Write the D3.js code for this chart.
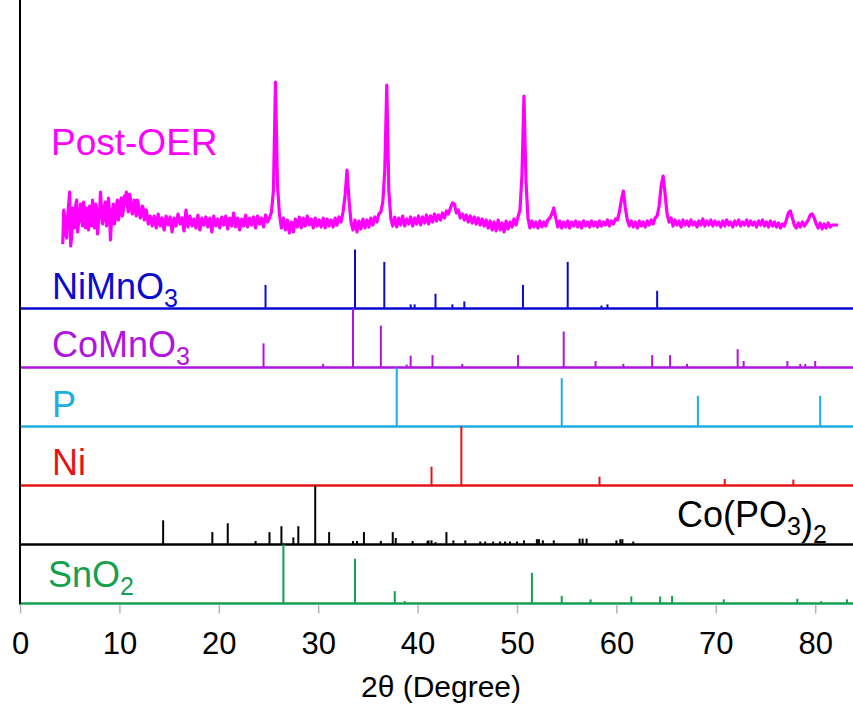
<!DOCTYPE html>
<html>
<head>
<meta charset="utf-8">
<script src="https://cdn.jsdelivr.net/npm/d3@7/dist/d3.min.js"></script>
<style>
  body { margin: 0; background: #fff; }
  svg { display: block; }
  text { font-family: "Liberation Sans", Arial, sans-serif; }
</style>
</head>
<body>
<div id="chart"></div>
<script>
// measured Post-OER pattern: [2theta, counts above background]
const postOER = [
  [4.3,-14],[4.4,20],[4.5,12],[4.6,-4],[4.7,-8],[4.8,14],[4.9,26],[5.0,38],[5.1,-16],[5.2,-6],
  [5.3,22],[5.4,8],[5.5,2],[5.6,24],[5.7,30],[5.8,-2],[5.9,8],[6.0,14],[6.1,26],[6.2,10],
  [6.3,4],[6.4,28],[6.5,20],[6.6,2],[6.7,22],[6.8,12],[6.9,0],[7.0,24],[7.1,18],[7.2,4],
  [7.3,30],[7.4,10],[7.5,2],[7.6,26],[7.7,22],[7.8,-4],[7.9,8],[8.0,16],[8.1,38],[8.2,20],
  [8.3,6],[8.4,12],[8.5,24],[8.6,28],[8.7,4],[8.8,10],[8.9,32],[9.0,18],[9.1,-10],[9.2,8],
  [9.3,20],[9.4,26],[9.5,6],[9.6,12],[9.7,24],[9.8,30],[9.9,10],[10.0,16],[10.1,28],[10.2,32],
  [10.3,14],[10.4,20],[10.5,34],[10.6,26],[10.7,38],[10.8,24],[10.9,18],[11.0,36],[11.1,32],[11.2,22],
  [11.3,16],[11.4,24],[11.5,30],[11.6,20],[11.7,14],[11.8,30],[11.9,26],[12.0,18],[12.1,12],[12.2,16],
  [12.3,24],[12.4,22],[12.5,10],[12.6,12],[12.7,20],[12.8,14],[12.9,6],[13.0,8],[13.1,14],
  [13.3,4],[13.5,14],[13.7,2],[13.9,16],[14.1,4],
  [14.3,12],[14.5,0],[14.7,14],[14.9,5],[15.1,13],[15.3,-2],[15.5,12],[15.7,4],[15.9,16],[16.1,6],
  [16.3,12],[16.5,-1],[16.7,20],[16.9,3],[17.1,14],[17.3,4],[17.5,11],[17.7,2],[17.9,15],[18.1,0],
  [18.3,12],[18.5,5],[18.7,13],[18.9,3],[19.1,12],[19.3,-2],[19.5,14],[19.7,4],[19.9,11],[20.1,2],
  [20.3,13],[20.5,5],[20.7,14],[20.9,1],[21.1,12],[21.3,4],[21.5,17],[21.7,3],[21.9,12],[22.1,0],
  [22.3,11],[22.5,4],[22.7,15],[22.9,3],[23.1,12],[23.3,5],[23.5,13],[23.7,2],[23.9,14],[24.1,6],
  [24.3,12],[24.5,3],[24.7,15],[24.9,8],[25.1,12],[25.3,18],[25.5,40],[25.7,148],[25.9,45],[26.1,16],
  [26.3,2],[26.5,12],[26.7,0],[26.9,10],[27.1,-3],[27.3,8],[27.5,-2],[27.7,11],[27.9,3],[28.1,13],
  [28.3,2],[28.5,12],[28.7,4],[28.9,14],[29.1,5],[29.3,11],[29.5,2],[29.7,12],[29.9,4],[30.1,10],
  [30.3,3],[30.5,12],[30.7,2],[30.9,11],[31.1,4],[31.3,10],[31.5,3],[31.7,12],[31.9,5],[32.1,13],
  [32.3,8],[32.5,18],[32.7,34],[32.9,60],[33.1,30],[33.3,8],[33.5,0],[33.7,10],[33.9,-2],[34.1,9],
  [34.3,1],[34.5,11],[34.7,2],[34.9,10],[35.1,3],[35.3,12],[35.5,5],[35.7,13],[35.9,8],[36.1,16],
  [36.3,18],[36.5,28],[36.7,60],[36.9,145],[37.1,40],[37.3,12],[37.5,4],[37.7,13],[37.9,3],[38.1,12],
  [38.3,5],[38.5,14],[38.7,4],[38.9,11],[39.1,6],[39.3,13],[39.5,4],[39.7,12],[39.9,6],[40.1,14],
  [40.3,5],[40.5,13],[40.7,7],[40.9,15],[41.1,6],[41.3,14],[41.5,8],[41.7,16],[41.9,9],[42.1,15],
  [42.3,10],[42.5,17],[42.7,12],[42.9,19],[43.1,16],[43.3,22],[43.5,27],[43.7,26],[43.9,17],[44.1,20],
  [44.3,12],[44.5,16],[44.7,10],[44.9,15],[45.1,8],[45.3,14],[45.5,7],[45.7,13],[45.9,6],[46.1,12],
  [46.3,5],[46.5,11],[46.7,4],[46.9,10],[47.1,2],[47.3,9],[47.5,0],[47.7,8],[47.9,-1],[48.1,10],
  [48.3,0],[48.5,7],[48.7,-2],[48.9,9],[49.1,1],[49.3,8],[49.5,3],[49.7,11],[49.9,5],[50.1,13],
  [50.3,20],[50.5,55],[50.7,134],[50.9,50],[51.1,12],[51.3,2],[51.5,9],[51.7,3],[51.9,8],[52.1,2],
  [52.3,9],[52.5,3],[52.7,8],[52.9,4],[53.1,10],[53.3,12],[53.5,16],[53.7,22],[53.9,12],[54.1,3],
  [54.3,9],[54.5,2],[54.7,8],[54.9,3],[55.1,9],[55.3,2],[55.5,8],[55.7,4],[55.9,9],[56.1,3],
  [56.3,8],[56.5,2],[56.7,9],[56.9,4],[57.1,8],[57.3,3],[57.5,9],[57.7,4],[57.9,8],[58.1,3],
  [58.3,9],[58.5,4],[58.7,8],[58.9,5],[59.1,10],[59.3,4],[59.5,9],[59.7,6],[59.9,11],[60.1,10],
  [60.3,18],[60.5,30],[60.7,39],[60.9,22],[61.1,10],[61.3,4],[61.5,9],[61.7,3],[61.9,8],[62.1,2],
  [62.3,9],[62.5,4],[62.7,8],[62.9,3],[63.1,9],[63.3,5],[63.5,10],[63.7,6],[63.9,12],[64.1,14],
  [64.3,24],[64.5,44],[64.7,54],[64.9,36],[65.1,16],[65.3,8],[65.5,12],[65.7,4],[65.9,10],[66.1,5],
  [66.3,9],[66.5,3],[66.7,10],[66.9,5],[67.1,9],[67.3,4],[67.5,10],[67.7,5],[67.9,8],[68.1,3],
  [68.3,9],[68.5,5],[68.7,11],[68.9,4],[69.1,9],[69.3,5],[69.5,10],[69.7,4],[69.9,9],[70.1,5],
  [70.3,8],[70.5,3],[70.7,9],[70.9,4],[71.1,10],[71.3,5],[71.5,8],[71.7,3],[71.9,9],[72.1,5],
  [72.3,10],[72.5,4],[72.7,8],[72.9,5],[73.1,10],[73.3,4],[73.5,9],[73.7,5],[73.9,8],[74.1,3],
  [74.3,9],[74.5,5],[74.7,10],[74.9,4],[75.1,8],[75.3,3],[75.5,9],[75.7,4],[75.9,8],[76.1,3],
  [76.3,7],[76.5,2],[76.7,6],[76.9,4],[77.1,10],[77.3,17],[77.5,19],[77.7,12],[77.9,5],[78.1,2],
  [78.3,7],[78.5,3],[78.7,8],[78.9,4],[79.1,7],[79.3,10],[79.5,15],[79.7,16],[79.9,12],[80.1,6],
  [80.3,2],[80.5,7],[80.7,1],[80.9,6],[81.1,2],[81.3,7],[81.5,3],[81.7,5],[81.9,5],[82.1,5],
  [82.3,5]
]

// reference stick patterns: [2theta, relative intensity %]
const niMnO3 = [[24.7,40],[33.7,100],[36.65,79],[39.3,7],[39.7,7],[41.8,25],[43.5,7],[44.7,12],
  [50.6,40],[55.1,79],[58.5,5],[59.1,7],[64.1,30]]
const coMnO3 = [[24.5,41],[30.5,6],[33.5,100],[36.3,71],[38.9,5],[39.3,20],[41.5,21],[44.5,6],
  [50.1,21],[54.7,61],[57.9,11],[60.7,6],[63.6,21],[65.4,21],[67.1,6],[72.2,31],[72.8,11],
  [77.2,11],[78.5,6],[79.0,6],[80.0,11]]
const phosphorus = [[37.9,100],[54.5,82],[68.2,52],[80.5,52]]
const nickel = [[41.4,32],[44.4,100],[58.3,15],[70.9,11],[77.8,10]]
const coPO3 = [[14.4,41],[19.35,21],[20.9,36],[23.7,6],[25.1,21],[26.3,31],[27.5,12],[28.0,31],
  [29.7,100],[31.1,21],[33.5,6],[33.9,6],[34.6,21],[36.3,6],[37.5,21],[37.8,11],[39.5,6],[41.0,6],
  [41.1,7],[41.4,7],[41.8,4],[42.9,21],[43.6,7],[44.8,7],[46.3,5],[46.8,5],[47.6,5],[48.3,5],
  [48.8,5],[49.3,5],[50.0,5],[50.7,7],[52.0,9],[52.2,9],[52.6,7],[53.7,7],[56.3,10],[56.6,10],
  [57.0,10],[60.0,7],[60.4,9],[60.6,9],[61.7,5]]
const snO2 = [[26.5,100],[33.7,76],[37.7,21],[38.7,4],[51.5,52],[54.5,13],[57.4,7],[61.5,12],
  [64.4,12],[65.6,13],[70.8,7],[78.2,8],[80.6,4],[83.2,7]]

// label text as [main, subscript] pieces
const patternNames = [
  [["NiMnO", "3"]],
  [["CoMnO", "3"]],
  [["P", ""]],
  [["Ni", ""]],
  [["Co(PO", "3"], [")", "2"]],
  [["SnO", "2"]]
]
const patternColors = ["#0a0ad2", "#b014e0", "#1eaee0", "#e61414", "#000000", "#14a050"]
const xTicks = [0, 10, 20, 30, 40, 50, 60, 70, 80]

const patterns = [niMnO3, coMnO3, phosphorus, nickel, coPO3, snO2].map((peaks, i) => ({
  peaks: peaks,
  name: patternNames[i],
  color: patternColors[i]
}))

const width = 853
const height = 704
const rowGap = 59
const axisY = 603.5

const svg = d3.select("#chart")
  .append("svg")
    .attr("width", width)
    .attr("height", height)

const x = d3.scaleLinear()
  .domain([0, 84])
  .range([20, 20 + 84 * 9.94])

// Post-OER trace
const yTrace = d3.scaleLinear()
  .domain([0, 150])
  .range([230, 80])

const line = d3.line()
  .x(d => x(d[0]))
  .y(d => yTrace(d[1]))

svg.append("path")
  .datum(postOER)
  .attr("d", line)
  .attr("fill", "none")
  .attr("stroke", "#ff00ff")
  .attr("stroke-width", 3.2)
  .attr("stroke-linejoin", "round")

svg.append("text")
  .attr("x", 51)
  .attr("y", 155)
  .attr("fill", "#ff00ff")
  .attr("font-size", 37)
  .text("Post-OER")

// stick patterns, top to bottom
const yIntensity = d3.scaleLinear().domain([0, 100]).range([0, rowGap])

const labelPos = [[52, 299], [52, 357], [52, 417], [52, 475], [677, 527], [48, 587]]

patterns.forEach((p, i) => {
  const base = axisY - (patterns.length - 1 - i) * rowGap
  const g = svg.append("g")

  g.selectAll("line.stick")
    .data(p.peaks)
    .join("line")
      .attr("class", "stick")
      .attr("x1", d => x(d[0]))
      .attr("x2", d => x(d[0]))
      .attr("y1", base)
      .attr("y2", d => base - yIntensity(d[1]))
      .attr("stroke", p.color)
      .attr("stroke-width", 2)

  g.append("line")
    .attr("x1", x(0))
    .attr("x2", width)
    .attr("y1", base)
    .attr("y2", base)
    .attr("stroke", p.color)
    .attr("stroke-width", 2.6)

  const label = g.append("text")
    .attr("x", labelPos[i][0])
    .attr("y", labelPos[i][1])
    .attr("fill", p.color)
    .attr("font-size", 36)

  p.name.forEach(part => {
    label.append("tspan").text(part[0])
    if (part[1]) {
      label.append("tspan")
        .attr("font-size", 25)
        .attr("dy", 8)
        .text(part[1])
      label.append("tspan").attr("dy", -8).text("")
    }
  })
})

// left axis line
svg.append("line")
  .attr("x1", x(0))
  .attr("x2", x(0))
  .attr("y1", 0)
  .attr("y2", axisY + 1)
  .attr("stroke", "#000")
  .attr("stroke-width", 2)

// bottom axis
const xAxis = d3.axisBottom(x)
  .tickValues(xTicks)
  .tickSize(9)
  .tickPadding(18)

const axisG = svg.append("g")
  .attr("transform", `translate(0,${axisY + 1})`)
  .call(xAxis)

axisG.select(".domain").remove()
axisG.selectAll(".tick line")
  .attr("stroke", "#b4b4b4")
  .attr("stroke-width", 1.5)
axisG.selectAll(".tick text")
  .attr("fill", "#000")
  .attr("font-size", 31)
  .attr("font-family", "'Liberation Sans', Arial, sans-serif")

svg.append("text")
  .attr("x", 441)
  .attr("y", 697)
  .attr("text-anchor", "middle")
  .attr("font-size", 30)
  .attr("fill", "#000")
  .text("2θ (Degree)")
</script>
</body>
</html>
